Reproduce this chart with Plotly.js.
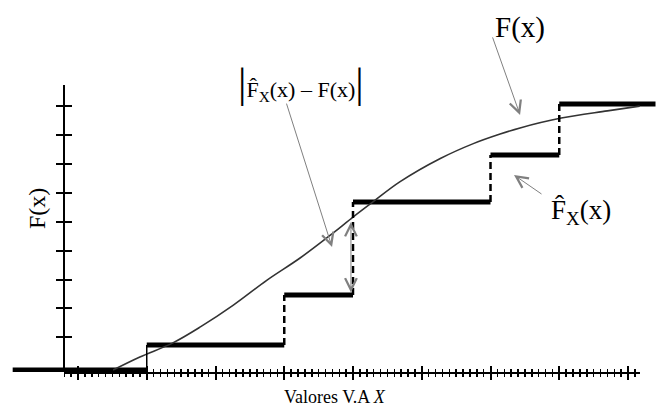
<!DOCTYPE html>
<html>
<head>
<meta charset="utf-8">
<script src="https://cdn.plot.ly/plotly-3.0.1.min.js"></script>
<style>html,body{margin:0;padding:0;background:#fff;}#chart{width:656px;height:408px;}</style>
</head>
<body>
<div id="chart"></div>
<script>
// ---- data ----
var stepStart = -0.95;            // left end of the empirical CDF
var stepEnd = 8.4;                // right end of the empirical CDF
var jumpX = [1, 3, 4, 6, 7];      // sample values (jump positions)
var levels = [0, 0.094, 0.282, 0.632, 0.808, 1.0]; // ECDF levels
var curveX = [0.51, 0.9, 1.38, 1.78, 2.26, 2.75, 3.23, 3.71, 4.0, 4.29, 4.68, 5.27, 5.75, 6.14, 6.43, 7.03, 7.7, 8.17];
var curveY = [0, 0.049, 0.102, 0.162, 0.244, 0.338, 0.421, 0.515, 0.575, 0.632, 0.707, 0.795, 0.851, 0.887, 0.91, 0.947, 0.974, 0.992];
var yTickVals = [0.1229, 0.2314, 0.3398, 0.4483, 0.5567, 0.6652, 0.7736, 0.8821, 0.9906];
var diffX = 3.97;                 // where |F^ - F| is shown
var diffTop = 0.556, diffBottom = 0.286;

// ---- build step segments ----
var edges = [stepStart].concat(jumpX).concat([stepEnd]);
var hx = [], hy = [];
for (var i = 0; i < levels.length; i++) {
  hx.push(edges[i], edges[i + 1], null);
  hy.push(levels[i], levels[i], null);
}
var vx = [], vy = [];
for (var j = 1; j < jumpX.length; j++) {
  vx.push(jumpX[j], jumpX[j], null);
  vy.push(levels[j], levels[j + 1], null);
}

var serif = 'Liberation Serif, Times New Roman, serif';
var X0 = [-1.1345, 8.4073];       // full-width x scale
var XA = [-0.2036, 8.1745];       // drawn axis extent
var YR = [-0.00752, 1.0714];
var W = 656, PT = 85, PB = 372;
function fx(px) { return px / W; }
function fy(py) { return (PB - py) / (PB - PT); }

var traces = [
  {x: hx, y: hy, xaxis: 'x', yaxis: 'y', mode: 'lines', line: {color: '#000', width: 5}, hoverinfo: 'skip'},
  {x: curveX, y: curveY, xaxis: 'x2', yaxis: 'y', mode: 'lines', line: {color: '#333', width: 1.6, shape: 'spline', smoothing: 1}, hoverinfo: 'skip'},
  {x: [jumpX[0], jumpX[0]], y: [levels[0], levels[1]], xaxis: 'x3', yaxis: 'y2', mode: 'lines', line: {color: '#000', width: 1.5}, hoverinfo: 'skip'},
  {x: vx, y: vy, xaxis: 'x3', yaxis: 'y2', mode: 'lines', line: {color: '#000', width: 2.5, dash: '7px,4px'}, hoverinfo: 'skip'}
];

var tickCommon = {showticklabels: false, showgrid: false, zeroline: false, tickcolor: '#000', fixedrange: true};
var layout = {
  width: 656, height: 408,
  margin: {l: 0, r: 0, t: PT, b: 408 - PB, pad: 0},
  paper_bgcolor: '#fff', plot_bgcolor: 'rgba(0,0,0,0)',
  showlegend: false,
  xaxis: {range: X0, visible: false, domain: [0, 1], anchor: 'y', fixedrange: true},
  xaxis2: Object.assign({}, tickCommon, {
    range: XA, domain: [fx(64), fx(640)], anchor: 'y',
    showline: true, linecolor: '#000', linewidth: 2,
    ticks: 'outside', ticklen: 6, tickwidth: 2, tick0: 0, dtick: 1,
    minor: {ticks: 'outside', ticklen: 3, tickwidth: 1.5, tickcolor: '#000', tick0: 0, dtick: 0.1, showgrid: false}
  }),
  xaxis3: Object.assign({}, tickCommon, {
    range: XA, overlaying: 'x2', anchor: 'y2',
    showline: false, ticks: 'inside', ticklen: 6, tickwidth: 2, tick0: 0, dtick: 1,
    minor: {ticks: 'inside', ticklen: 3, tickwidth: 1.5, tickcolor: '#000', tick0: 0, dtick: 0.1, showgrid: false}
  }),
  yaxis: Object.assign({}, tickCommon, {
    range: YR, domain: [0, 1], anchor: 'free', position: fx(64),
    showline: true, linecolor: '#000', linewidth: 2,
    ticks: 'outside', ticklen: 7, tickwidth: 2, tickmode: 'array', tickvals: yTickVals
  }),
  yaxis2: Object.assign({}, tickCommon, {
    range: YR, overlaying: 'y', anchor: 'free', position: fx(64),
    showline: false, ticks: 'inside', ticklen: 7, tickwidth: 2, tickmode: 'array', tickvals: yTickVals
  }),
  annotations: [
    // labels
    {xref: 'paper', yref: 'paper', x: fx(520), y: fy(27), text: 'F(x)', showarrow: false,
     font: {family: serif, size: 29, color: '#000'}, xanchor: 'center', yanchor: 'middle'},
    {xref: 'paper', yref: 'paper', x: fx(581), y: fy(212), text: 'F\u0302<sub>X</sub>(x)', showarrow: false,
     font: {family: serif, size: 27, color: '#000'}, xanchor: 'center', yanchor: 'middle'},
    {xref: 'paper', yref: 'paper', x: fx(301), y: fy(83),
     text: '<span style="font-size:42px">|</span>F\u0302<sub>X</sub>(x) \u2013 F(x)<span style="font-size:42px">|</span>',
     showarrow: false, font: {family: serif, size: 22, color: '#000'}, xanchor: 'center', yanchor: 'middle'},
    {xref: 'paper', yref: 'paper', x: fx(37), y: fy(209), text: 'F(x)', textangle: -90, showarrow: false,
     font: {family: serif, size: 24, color: '#000'}, xanchor: 'center', yanchor: 'middle'},
    {xref: 'paper', yref: 'paper', x: fx(335), y: fy(397), text: 'Valores V.A <i>X</i>', showarrow: false,
     font: {family: serif, size: 18, color: '#000'}, xanchor: 'center', yanchor: 'middle'},
    // arrows
    {xref: 'x', yref: 'y', x: 6.43, y: 0.959, ax: -28, ay: -79, text: '', showarrow: true,
     arrowhead: 5, arrowsize: 2.3, arrowwidth: 1, arrowcolor: '#808080'},
    {xref: 'x', yref: 'y', x: 6.342, y: 0.733, ax: 29, ay: 20, text: '', showarrow: true,
     arrowhead: 5, arrowsize: 2.3, arrowwidth: 1, arrowcolor: '#808080'},
    {xref: 'x', yref: 'y', x: 3.695, y: 0.462, ax: -46, ay: -145, text: '', showarrow: true,
     arrowhead: 5, arrowsize: 2.3, arrowwidth: 1, arrowcolor: '#808080'},
    {xref: 'x', yref: 'y', x: diffX, y: diffTop, axref: 'x', ayref: 'y', ax: diffX, ay: diffBottom, text: '',
     showarrow: true, arrowside: 'end+start', arrowhead: 5, startarrowhead: 5, arrowsize: 2.3, startarrowsize: 2.3,
     arrowwidth: 1, arrowcolor: '#808080'}
  ]
};

Plotly.newPlot('chart', traces, layout, {staticPlot: true, displayModeBar: false});
</script>
</body>
</html>
